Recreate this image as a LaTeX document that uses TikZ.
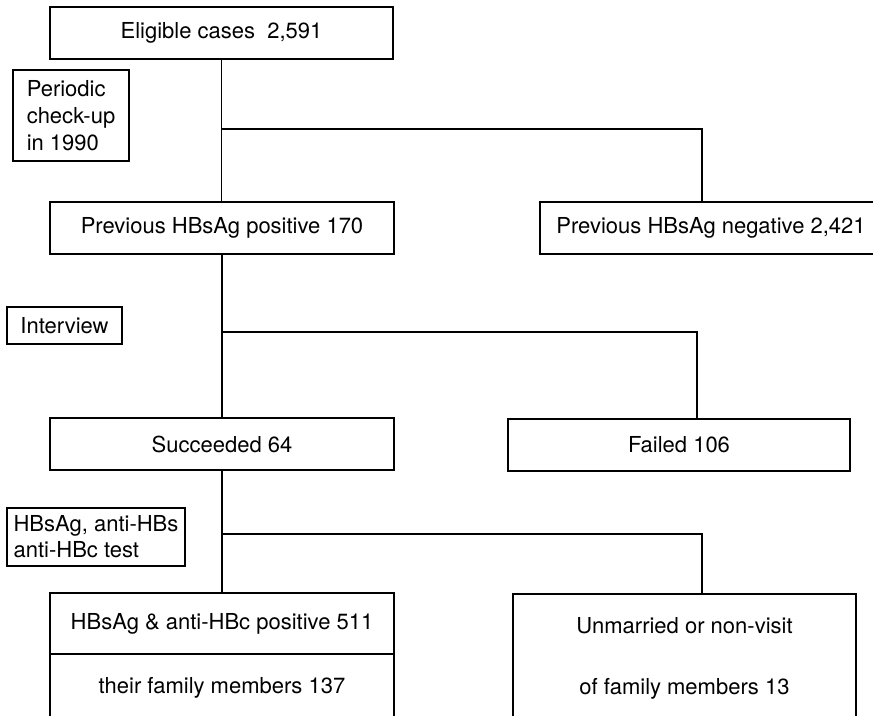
\documentclass[tikz,border=0pt]{standalone}
\usepackage{fontspec}
\setmainfont{TeX Gyre Heros}
\begin{document}
\begin{tikzpicture}[x=0.5pt,y=-0.5pt,line width=0.6pt,
  box/.style={draw,line width=0.7pt,inner sep=0pt,minimum width=171.5pt,minimum height=26pt,
    align=center,font=\fontsize{11}{13.5}\selectfont},
  note/.style={draw,line width=0.6pt,inner sep=0pt,align=left,font=\fontsize{11}{13.5}\selectfont}]
  \useasboundingbox[fill=white] (0,0) rectangle (873,716);
  \node[box] (elig) at (221.5,33) {Eligible cases\ \ 2,591};
  \node[note,minimum width=58pt,minimum height=45.5pt] (check) at (71,115.5) {Periodic\\check-up\\in 1990};
  \node[box,minimum width=172pt] (prevpos) at (222,228) {Previous HBsAg positive 170};
  \node[box,minimum width=171pt] (prevneg) at (711,228) {Previous HBsAg negative 2,421};
  \node[note,minimum width=57.5pt,minimum height=18.5pt] (interview) at (64.5,325.5) {Interview};
  \node[box,minimum width=172pt] (succ) at (222,444) {Succeeded 64};
  \node[box,minimum width=171pt] (failed) at (679,445) {Failed 106};
  \node[note,minimum width=89pt,minimum height=29pt,font=\fontsize{11}{13}\selectfont] (test) at (96,537) {HBsAg, anti-HBs\\anti-HBc test};
  \node[box,minimum width=172pt,minimum height=30.5pt] (pos) at (222,623.5) {HBsAg \& anti-HBc positive 511};
  \node[box,minimum width=172pt,minimum height=34pt] (fam) at (222,688) {their family members 137};
  \node[box,minimum height=64pt] (unmar) at (684.5,658) {Unmarried or non-visit\\[17pt]of family members 13};
  \coordinate (b1) at (702,129);
  \coordinate (b2) at (697,332);
  \coordinate (b3) at (702,534);
  \draw (elig.south) -- (elig.south |- prevpos.north);
  \draw (elig.south |- b1) -- (b1) -- (b1 |- prevneg.north);
  \draw (prevpos.south) -- (prevpos.south |- succ.north);
  \draw (prevpos.south |- b2) -- (b2) -- (b2 |- failed.north);
  \draw (succ.south) -- (succ.south |- pos.north);
  \draw (succ.south |- b3) -- (b3) -- (b3 |- unmar.north);
\end{tikzpicture}
\end{document}
